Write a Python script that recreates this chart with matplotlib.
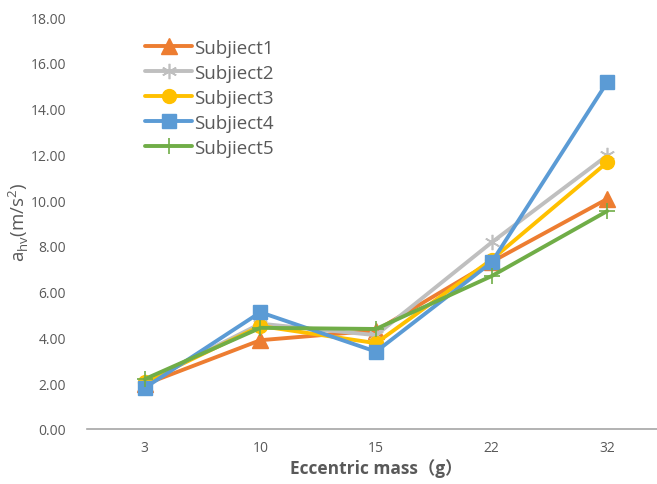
import matplotlib
matplotlib.use("Agg")
import matplotlib.pyplot as plt

categories = ["3", "10", "15", "22", "32"]
subject1 = [1.95, 3.88, 4.30, 7.30, 10.05]
subject2 = [2.05, 4.60, 4.10, 8.15, 11.95]
subject3 = [2.05, 4.50, 3.75, 7.40, 11.65]
subject4 = [1.80, 5.10, 3.38, 7.28, 15.15]
subject5 = [2.18, 4.42, 4.37, 6.68, 9.52]
yticks = [0, 2, 4, 6, 8, 10, 12, 14, 16, 18]

plt.rcParams['font.family'] = ['Open Sans', 'Noto Sans CJK SC', 'DejaVu Sans']
txt = '#595959'

fig = plt.figure(figsize=(6.57, 4.85), dpi=100)
ax = fig.add_axes([87/657, (485-430)/485, 578/657, 412/485])

x = range(len(categories))
series = [
    ("Subjiect1", subject1, '#ED7D31', '^', 11),
    ("Subjiect2", subject2, '#BFBFBF', (6, 2, 0), 11),
    ("Subjiect3", subject3, '#FFC000', 'o', 10),
    ("Subjiect4", subject4, '#5B9BD5', 's', 10),
    ("Subjiect5", subject5, '#70AD47', '+', 12),
]
for name, vals, col, mk, ms in series:
    mew = 1.2 if mk == '+' or isinstance(mk, tuple) else 1
    ax.plot(x, vals, color=col, lw=2.8, marker=mk, ms=ms, mec=col, mfc=col,
            mew=mew, label=name, solid_capstyle='round')

ax.set_xlim(-0.5, 4.5)
ax.set_ylim(0, 18)
ax.set_yticks(yticks)
ax.set_yticklabels([f"{v:.2f}" for v in yticks])
ax.set_xticks(list(x))
ax.set_xticklabels(categories)
for s in ['top', 'right', 'left']:
    ax.spines[s].set_visible(False)
ax.spines['bottom'].set_color('#A6A6A6')
ax.spines['bottom'].set_linewidth(1.2)
ax.tick_params(axis='both', length=0, labelsize=10, colors=txt, pad=8)
ax.tick_params(axis='y', pad=15)

ax.set_xlabel("Eccentric mass（g）", fontsize=12.5, fontweight='bold', color=txt, labelpad=2)
fig.text(19/657, 1 - 222/485, r"a$_{\mathregular{hv}}$(m/s$^{\mathregular{2}}$)",
         rotation=90, ha='center', va='center', fontsize=13.5, color=txt)

leg = ax.legend(loc='upper left', bbox_to_anchor=(0.072, 0.988), frameon=False,
                fontsize=13.5, handlelength=2.5, handletextpad=0.1, labelspacing=0.37,
                labelcolor=txt)

fig.savefig("out.png", dpi=100)
